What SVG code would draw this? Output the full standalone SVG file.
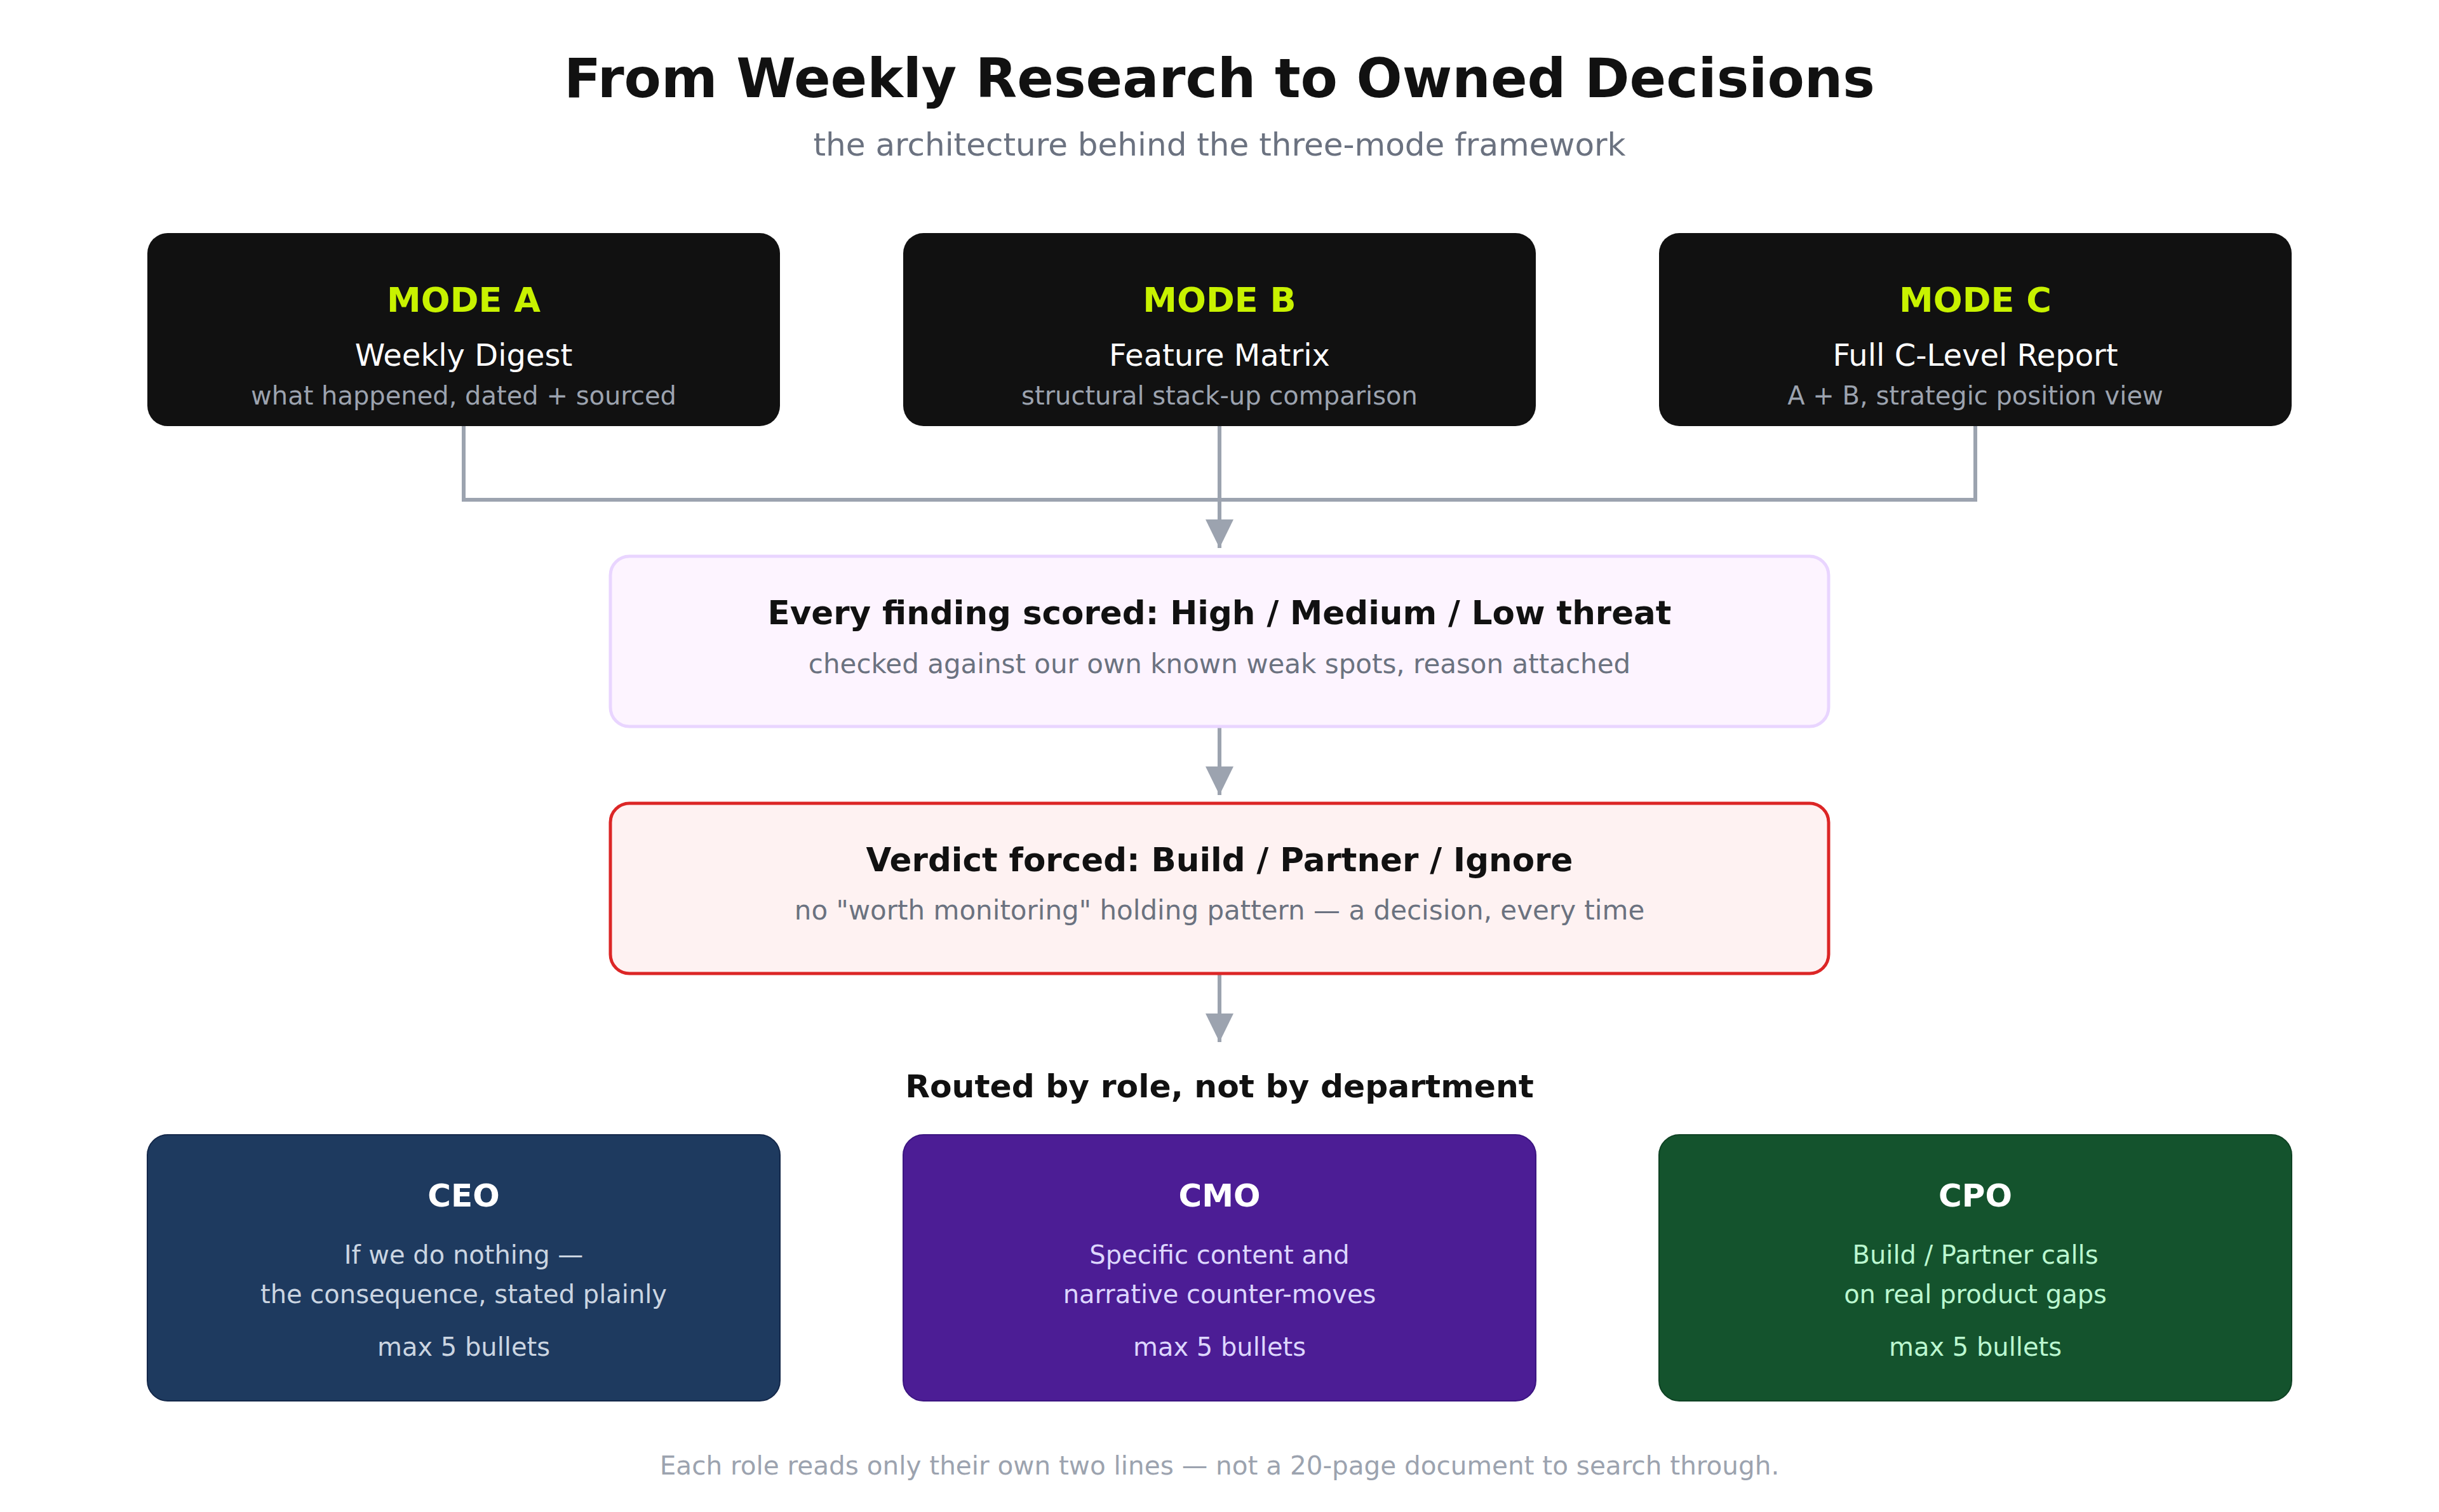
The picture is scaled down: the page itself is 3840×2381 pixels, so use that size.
<svg xmlns="http://www.w3.org/2000/svg" width="3840" height="2381" viewBox="0 0 3840 2381">
  <defs>
    <style>
      text { font-family: "DejaVu Sans", "Noto Sans", sans-serif; text-anchor: middle; }
      .title { font-size: 85px; font-weight: bold; fill: #111111; }
      .subtitle { font-size: 50px; fill: #6b7280; }
      .mode-box { fill: #111111; }
      .mode-tag { font-size: 54px; font-weight: bold; fill: #c8f200; }
      .mode-name { font-size: 48px; fill: #ffffff; }
      .mode-desc { font-size: 40px; fill: #9ca3af; }
      .step-title { font-size: 51.5px; font-weight: bold; fill: #111111; }
      .step-desc { font-size: 42px; fill: #6b7280; }
      .role-title { font-size: 50px; font-weight: bold; fill: #ffffff; }
      .role-text { font-size: 40px; }
      .heading { font-size: 50.4px; font-weight: bold; fill: #111111; }
      .footer { font-size: 40.5px; fill: #9ca3af; }
      .wire { fill: none; stroke: #9ca3af; stroke-width: 6; }
    </style>
    <marker id="arrow" markerUnits="userSpaceOnUse" markerWidth="46" markerHeight="46" refX="45" refY="23" orient="auto">
      <path d="M0,1 L45,23 L0,45 Z" fill="#9ca3af"/>
    </marker>
  </defs>

  <rect width="3840" height="2381" fill="#ffffff"/>

  <!-- heading -->
  <text class="title" x="1920" y="153">From Weekly Research to Owned Decisions</text>
  <text class="subtitle" x="1920" y="245">the architecture behind the three-mode framework</text>

  <!-- connectors -->
  <g id="connectors">
    <path class="wire" d="M730 671 V787 H3110 V671"/>
    <path class="wire" d="M1920 671 V863" marker-end="url(#arrow)"/>
    <path class="wire" d="M1920 1145 V1252" marker-end="url(#arrow)"/>
    <path class="wire" d="M1920 1534 V1641" marker-end="url(#arrow)"/>
  </g>

  <!-- research modes -->
  <g id="mode-a">
    <rect class="mode-box" x="232" y="367" width="996" height="304" rx="32"/>
    <text class="mode-tag" x="730" y="491">MODE A</text>
    <text class="mode-name" x="730" y="576">Weekly Digest</text>
    <text class="mode-desc" x="730" y="637">what happened, dated + sourced</text>
  </g>
  <g id="mode-b">
    <rect class="mode-box" x="1422" y="367" width="996" height="304" rx="32"/>
    <text class="mode-tag" x="1920" y="491">MODE B</text>
    <text class="mode-name" x="1920" y="576">Feature Matrix</text>
    <text class="mode-desc" x="1920" y="637">structural stack-up comparison</text>
  </g>
  <g id="mode-c">
    <rect class="mode-box" x="2612" y="367" width="996" height="304" rx="32"/>
    <text class="mode-tag" x="3110" y="491">MODE C</text>
    <text class="mode-name" x="3110" y="576">Full C-Level Report</text>
    <text class="mode-desc" x="3110" y="637">A + B, strategic position view</text>
  </g>

  <!-- scoring step -->
  <g id="scoring">
    <rect x="961" y="876" width="1918" height="268" rx="30" fill="#fdf4ff" stroke="#e9d5ff" stroke-width="5"/>
    <text class="step-title" x="1920" y="983">Every finding scored: High / Medium / Low threat</text>
    <text class="step-desc" x="1920" y="1060">checked against our own known weak spots, reason attached</text>
  </g>

  <!-- verdict step -->
  <g id="verdict">
    <rect x="961" y="1265" width="1918" height="268" rx="30" fill="#fef2f2" stroke="#dc2626" stroke-width="5"/>
    <text class="step-title" x="1920" y="1372">Verdict forced: Build / Partner / Ignore</text>
    <text class="step-desc" x="1920" y="1448">no "worth monitoring" holding pattern — a decision, every time</text>
  </g>

  <text class="heading" x="1920" y="1728">Routed by role, not by department</text>

  <!-- role outputs -->
  <g id="role-ceo">
    <rect x="232" y="1787" width="996" height="419" rx="32" fill="#1e3a5f" stroke="#14284a" stroke-width="2"/>
    <text class="role-title" x="730" y="1900">CEO</text>
    <text class="role-text" x="730" y="1990" fill="#cbd5e1">If we do nothing —</text>
    <text class="role-text" x="730" y="2052" fill="#cbd5e1">the consequence, stated plainly</text>
    <text class="role-text" x="730" y="2135" fill="#cbd5e1">max 5 bullets</text>
  </g>
  <g id="role-cmo">
    <rect x="1422" y="1787" width="996" height="419" rx="32" fill="#4c1d95" stroke="#3b1580" stroke-width="2"/>
    <text class="role-title" x="1920" y="1900">CMO</text>
    <text class="role-text" x="1920" y="1990" fill="#ddd6fe">Specific content and</text>
    <text class="role-text" x="1920" y="2052" fill="#ddd6fe">narrative counter-moves</text>
    <text class="role-text" x="1920" y="2135" fill="#ddd6fe">max 5 bullets</text>
  </g>
  <g id="role-cpo">
    <rect x="2612" y="1787" width="996" height="419" rx="32" fill="#14532d" stroke="#0f4224" stroke-width="2"/>
    <text class="role-title" x="3110" y="1900">CPO</text>
    <text class="role-text" x="3110" y="1990" fill="#bbf7d0">Build / Partner calls</text>
    <text class="role-text" x="3110" y="2052" fill="#bbf7d0">on real product gaps</text>
    <text class="role-text" x="3110" y="2135" fill="#bbf7d0">max 5 bullets</text>
  </g>

  <text class="footer" x="1920" y="2322">Each role reads only their own two lines — not a 20-page document to search through.</text>
</svg>
